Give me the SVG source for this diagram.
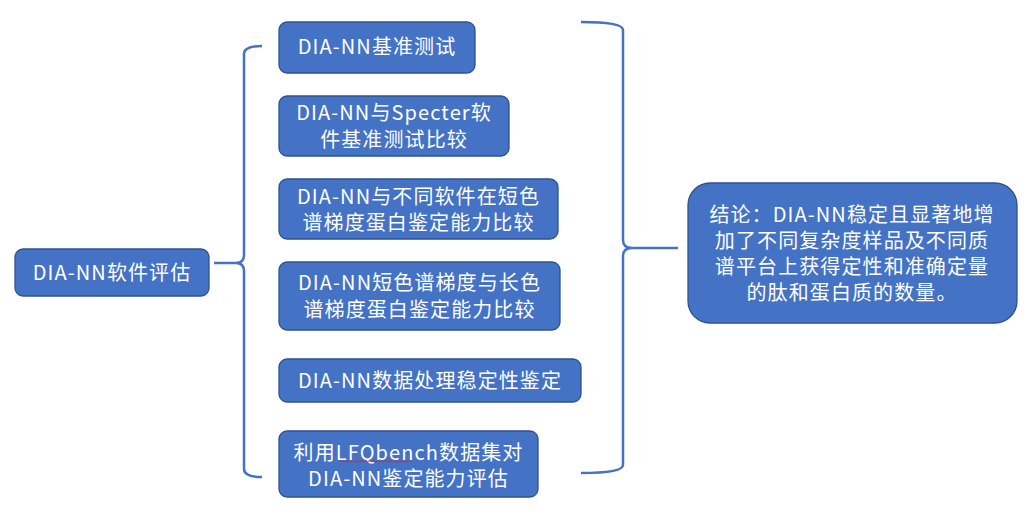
<svg xmlns="http://www.w3.org/2000/svg" width="1034" height="529" viewBox="0 0 1034 529">
<style>
.box{fill:#4472C4;stroke:#2F528F;stroke-width:1.3}
.t{font-family:"Microsoft YaHei","Noto Sans CJK SC",sans-serif;font-size:20px;letter-spacing:1.1px;fill:#FFFFFF;text-anchor:middle}
.br{fill:none;stroke:#4472C4;stroke-width:2.5}
</style>
<rect width="1034" height="529" fill="#FFFFFF"/>
<g id="connectors">
<path class="br" d="M262,46 Q244,46 244,54 L244,255 Q244,263 236,263 L214,263 M236,263 Q244,263 244,271 L244,469 Q244,477 262,477"/>
<path class="br" d="M581,22 Q623,22 623,30 L623,240 Q623,248 632,248 L678,248 M632,248 Q623,248 623,256 L623,465 Q623,473 581,473"/>
</g>
<g id="root">
<rect class="box" x="15" y="249" width="194" height="47" rx="8"/>
<text class="t" x="112" y="280">DIA-NN软件评估</text>
</g>
<g id="n1">
<rect class="box" x="279" y="22" width="196" height="51" rx="8"/>
<text class="t" x="377" y="54">DIA-NN基准测试</text>
</g>
<g id="n2">
<rect class="box" x="279" y="96" width="230" height="60" rx="8"/>
<text class="t"><tspan x="394" y="120">DIA-NN与Specter软</tspan><tspan x="394" y="147">件基准测试比较</tspan></text>
</g>
<g id="n3">
<rect class="box" x="279" y="179" width="279" height="60" rx="8"/>
<text class="t"><tspan x="418.5" y="204">DIA-NN与不同软件在短色</tspan><tspan x="418.5" y="230">谱梯度蛋白鉴定能力比较</tspan></text>
</g>
<g id="n4">
<rect class="box" x="279" y="262" width="281" height="68" rx="8"/>
<text class="t"><tspan x="419.5" y="290">DIA-NN短色谱梯度与长色</tspan><tspan x="419.5" y="317">谱梯度蛋白鉴定能力比较</tspan></text>
</g>
<g id="n5">
<rect class="box" x="279" y="359" width="302" height="43" rx="8"/>
<text class="t" x="430" y="388">DIA-NN数据处理稳定性鉴定</text>
</g>
<g id="n6">
<rect class="box" x="279" y="431" width="259" height="66" rx="8"/>
<text class="t"><tspan x="408.5" y="460">利用LFQbench数据集对</tspan><tspan x="408.5" y="486">DIA-NN鉴定能力评估</tspan></text>
<path d="M340,462 l2,-1.5 l2,1.5 l2,-1.5 l2,1.5 l2,-1.5 l2,1.5 l2,-1.5 l2,1.5 l2,-1.5 l2,1.5 l2,-1.5 l2,1.5 l2,-1.5 l2,1.5 l2,-1.5 l2,1.5 l2,-1.5 l2,1.5 l2,-1.5 l2,1.5 l2,-1.5 l2,1.5 l2,-1.5 l2,1.5 l2,-1.5 l2,1.5 l2,-1.5 l2,1.5 l2,-1.5 l2,1.5 l2,-1.5 l2,1.5 l2,-1.5 l2,1.5 l2,-1.5 l2,1.5" fill="none" stroke="#E02020" stroke-width="0.9"/>
</g>
<g id="conclusion">
<rect class="box" x="688" y="183" width="329" height="140" rx="22"/>
<text class="t"><tspan x="852" y="222">结论：DIA-NN稳定且显著地增</tspan><tspan x="852" y="248">加了不同复杂度样品及不同质</tspan><tspan x="852" y="274">谱平台上获得定性和准确定量</tspan><tspan x="852" y="300">的肽和蛋白质的数量。</tspan></text>
</g>
</svg>
